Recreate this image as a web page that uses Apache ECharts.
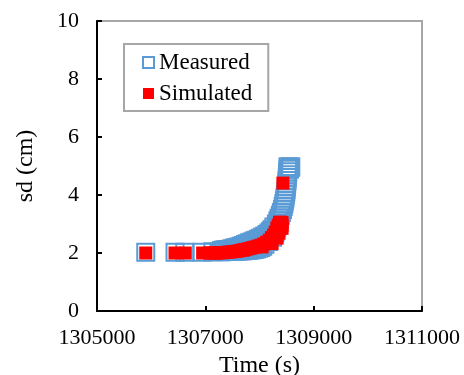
<!DOCTYPE html>
<html><head><meta charset="utf-8">
<script src="https://cdn.jsdelivr.net/npm/echarts@6/dist/echarts.min.js"></script>
<style>html,body{margin:0;padding:0;background:#fff}#c{width:464px;height:375px}</style>
</head><body><div id="c"></div>
<script>
var xTicks = [1305000, 1307000, 1309000, 1311000];
var yTicks = [0, 2, 4, 6, 8, 10];
var seriesNames = ['Measured', 'Simulated'];

var measuredTime = [
  1305900, 1306440, 1306620, 1306940, 1307140,
  1307260, 1307300, 1307340, 1307380, 1307420, 1307460, 1307500, 1307540, 1307580, 1307620,
  1307660, 1307700, 1307740, 1307780, 1307820, 1307860, 1307900, 1307940, 1307980, 1308020, 1308060,
  1307300, 1307340, 1307380, 1307420, 1307460, 1307500, 1307540, 1307580, 1307620, 1307660,
  1307700, 1307740, 1307780, 1307820, 1307860, 1307900, 1307940, 1307980, 1308020, 1308060,
  1308100, 1308140, 1308175, 1308205,
  1308230, 1308265, 1308312, 1308340, 1308362, 1308385, 1308405, 1308424, 1308438, 1308450,
  1308460, 1308470, 1308478, 1308486, 1308492, 1308498, 1308503, 1308508, 1308513, 1308518,
  1308522, 1308526, 1308528,
  1308100, 1308170, 1308239, 1308285, 1308320, 1308350,
  1308555, 1308570, 1308578
];
var measuredSd = [
  2.03, 2.03, 2.03, 2.03, 2.04,
  2.04, 2.04, 2.05, 2.05, 2.05, 2.06, 2.06, 2.06, 2.07, 2.07,
  2.08, 2.08, 2.09, 2.09, 2.10, 2.11, 2.12, 2.14, 2.16, 2.19, 2.23,
  2.09, 2.10, 2.11, 2.12, 2.13, 2.15, 2.17, 2.19, 2.21, 2.23,
  2.26, 2.29, 2.32, 2.35, 2.38, 2.41, 2.44, 2.47, 2.51, 2.55,
  2.59, 2.64, 2.69, 2.74,
  2.80, 2.90, 3.00, 3.10, 3.20, 3.30, 3.40, 3.50, 3.60, 3.70,
  3.80, 3.90, 4.00, 4.10, 4.20, 4.30, 4.40, 4.50, 4.60, 4.70,
  4.80, 4.90, 4.97,
  2.30, 2.40, 2.54, 2.70, 2.90, 3.10,
  4.90, 4.95, 4.97
];

var simulatedTime = [
  1305900, 1306440, 1306630, 1306950,
  1307080, 1307130, 1307180, 1307230, 1307280, 1307330, 1307380, 1307430, 1307480, 1307530,
  1307580, 1307630, 1307680, 1307730, 1307780, 1307830, 1307880, 1307930, 1307980, 1308030,
  1308080, 1308130, 1308180, 1308220, 1308260, 1308290, 1308320, 1308345, 1308369,
  1308395, 1308416, 1308417, 1308417, 1308360, 1308325, 1308232, 1308047, 1307709,
  1308432
];
var simulatedSd = [
  2.00, 2.00, 2.00, 2.00,
  2.00, 2.00, 2.00, 2.00, 2.01, 2.01, 2.02, 2.03, 2.04, 2.05,
  2.06, 2.08, 2.10, 2.12, 2.14, 2.16, 2.19, 2.21, 2.24, 2.27,
  2.31, 2.37, 2.44, 2.53, 2.62, 2.72, 2.86, 2.96, 3.06,
  3.06, 3.05, 2.95, 2.85, 2.68, 2.51, 2.33, 2.21, 2.10,
  4.41
];

function pairs(xs, ys) { return xs.map(function (x, i) { return [x, ys[i]]; }); }

var FONT = 'Liberation Serif';
var chart = echarts.init(document.getElementById('c'), null, { renderer: 'canvas' });
chart.setOption({
  animation: false,
  backgroundColor: '#fff',
  grid: { left: 97, right: 42, top: 21, bottom: 64, containLabel: false, outerBoundsMode: 'none',
          show: true, borderColor: '#a6a6a6', borderWidth: 2, backgroundColor: 'transparent' },
  legend: {
    orient: 'vertical', left: 124, top: 44,
    padding: [7, 16, 6, 18], itemGap: 8, itemWidth: 11, itemHeight: 11,
    borderColor: '#a6a6a6', borderWidth: 2, backgroundColor: '#fff',
    textStyle: { fontFamily: FONT, fontSize: 23, color: '#000' },
    data: [
      { name: seriesNames[0], icon: 'rect', itemStyle: { color: '#fff', borderColor: '#5b9bd5', borderWidth: 2 } },
      { name: seriesNames[1], icon: 'rect', itemStyle: { color: '#ff0000', borderWidth: 0 } }
    ]
  },
  xAxis: {
    type: 'value', min: xTicks[0], max: xTicks[xTicks.length - 1],
    name: 'Time (s)', nameLocation: 'middle', nameGap: 35,
    nameTextStyle: { fontFamily: FONT, fontSize: 24, color: '#000' },
    axisLine: { show: true, onZero: false, lineStyle: { color: '#000', width: 2 } },
    axisTick: { show: true, inside: true, length: 5, lineStyle: { color: '#000', width: 2 }, customValues: xTicks },
    axisLabel: { fontFamily: FONT, fontSize: 22, color: '#000', margin: 16, customValues: xTicks, formatter: function (v) { return String(v); } },
    splitLine: { show: false }
  },
  yAxis: {
    type: 'value', min: yTicks[0], max: yTicks[yTicks.length - 1], interval: 2,
    name: 'sd (cm)', nameLocation: 'middle', nameGap: 59,
    nameTextStyle: { fontFamily: FONT, fontSize: 24, color: '#000' },
    axisLine: { show: true, lineStyle: { color: '#000', width: 2 } },
    axisTick: { show: true, inside: true, length: 5, lineStyle: { color: '#000', width: 2 } },
    axisLabel: { fontFamily: FONT, fontSize: 22, color: '#000', margin: 18 },
    splitLine: { show: false }
  },
  series: [
    {
      name: seriesNames[0], type: 'scatter', symbol: 'rect', symbolSize: 17,
      itemStyle: { color: 'rgba(0,0,0,0)', borderColor: '#5b9bd5', borderWidth: 2, opacity: 1 },
      data: pairs(measuredTime, measuredSd), z: 2
    },
    {
      name: seriesNames[1], type: 'scatter', symbol: 'rect', symbolSize: 13,
      itemStyle: { color: '#ff0000', opacity: 1 },
      data: pairs(simulatedTime, simulatedSd), z: 3
    }
  ]
});
</script>
</body></html>
